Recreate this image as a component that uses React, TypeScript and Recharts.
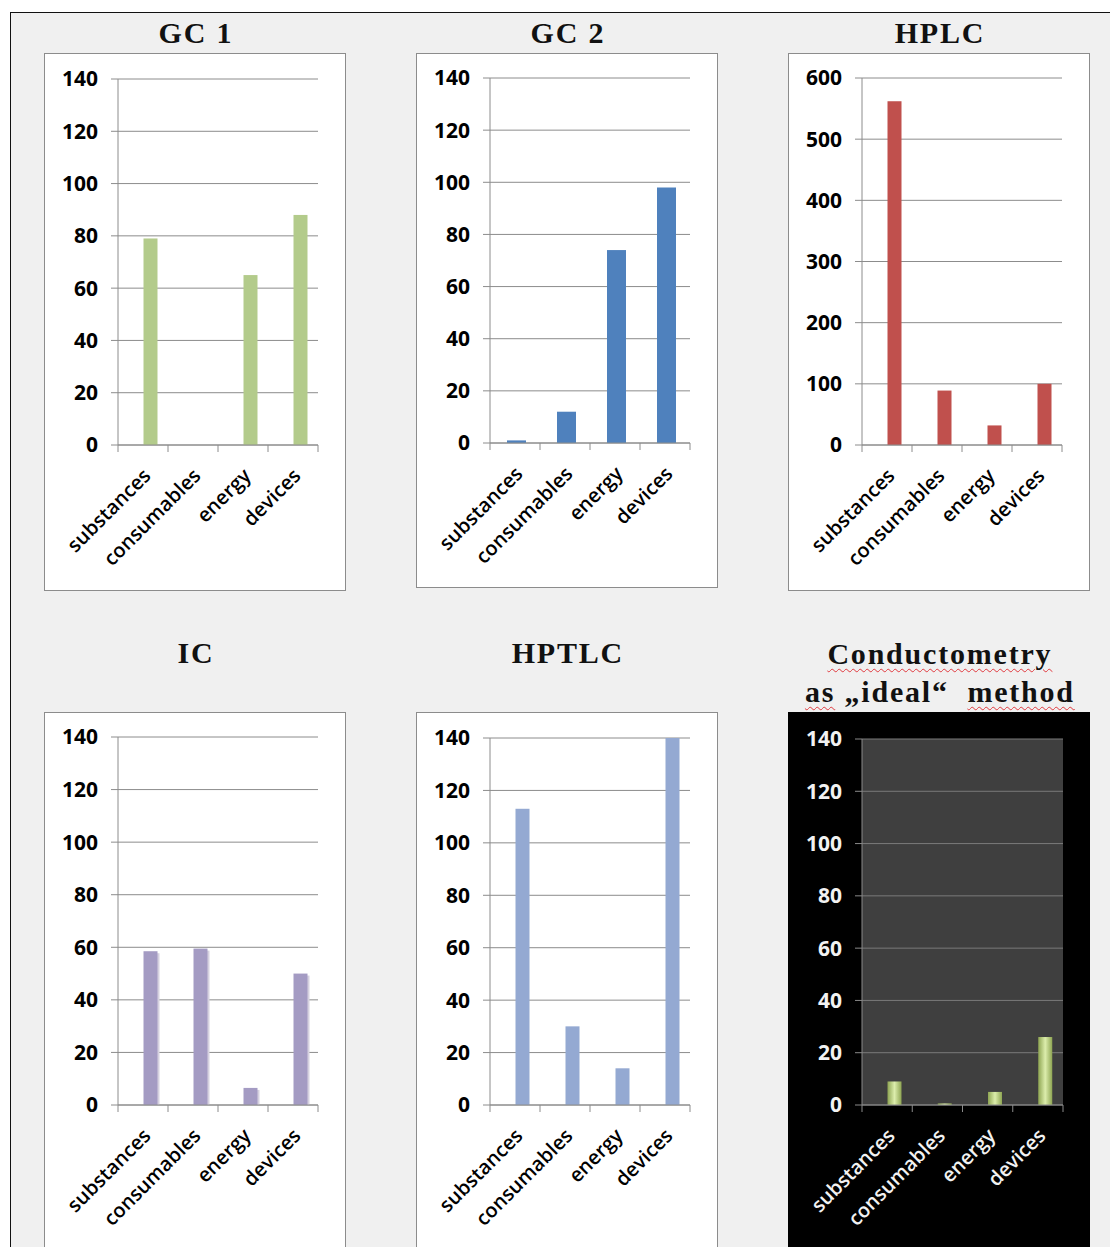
import React from 'react';
import { BarChart, Bar, XAxis, YAxis, CartesianGrid } from 'recharts';

// Cost categories shared by every method
const categories = ['substances', 'consumables', 'energy', 'devices'];

// Values per method, in category order
const gc1Values = [79, 0, 65, 88];
const gc2Values = [1, 12, 74, 98];
const hplcValues = [562, 89, 32, 100];
const icValues = [58.5, 59.5, 6.5, 50];
const hptlcValues = [113, 30, 14, 140];
const conductometryValues = [9, 0.6, 5, 26];

// Value-axis ticks
const ticksTo140 = [0, 20, 40, 60, 80, 100, 120, 140];
const ticksTo600 = [0, 100, 200, 300, 400, 500, 600];

const TICK_FONT = '"Open Sans", Lato, "DejaVu Sans", sans-serif';
const TITLE_FONT = '"Liberation Serif", "Times New Roman", serif';
const Y_AXIS_W = 60;
const X_AXIS_H = 110;

type Rect = { left: number; top: number; width: number; height: number };

type PanelProps = {
  box: Rect;
  plot: Rect;
  values: number[];
  ticks: number[];
  color: string;
  barWidth: number;
  barShift: number;
  dark?: boolean;
  shadow?: boolean;
  gradient?: boolean;
};

function makeRows(values: number[]) {
  return categories.map((category, i) => ({ category, value: values[i] }));
}

function CategoryTick(props: any) {
  const { x, y, payload, index, half, textColor, lineColor } = props;
  const idx = typeof index === 'number' ? index : payload?.index ?? 0;
  const ax = x + 9;
  const ay = y + 32;
  return (
    <g>
      <line x1={x - half} x2={x - half} y1={y} y2={y + 7} stroke={lineColor} strokeWidth={1} />
      {idx === categories.length - 1 && (
        <line x1={x + half} x2={x + half} y1={y} y2={y + 7} stroke={lineColor} strokeWidth={1} />
      )}
      <text
        x={ax}
        y={ay}
        transform={`rotate(-45, ${ax}, ${ay})`}
        textAnchor="end"
        fill={textColor}
        fontFamily={TICK_FONT}
        fontSize={20}
        fontWeight={600}
      >
        {payload.value}
      </text>
    </g>
  );
}

function BarShape(props: any) {
  const { x, y, width, height, fill, shift, shadow, gradient } = props;
  if (!height || height <= 0) return <g />;
  return (
    <g>
      {shadow && (
        <rect x={x + shift + 2} y={y + 2} width={width} height={height - 2} fill="#d6d1e0" />
      )}
      <rect
        x={x + shift}
        y={y}
        width={width}
        height={height}
        fill={gradient ? 'url(#condBar)' : fill}
      />
    </g>
  );
}

function Panel({ box, plot, values, ticks, color, barWidth, barShift, dark, shadow, gradient }: PanelProps) {
  const axisColor = dark ? '#8a8a8a' : '#8c8c8c';
  const gridColor = dark ? '#7a7a7a' : '#8c8c8c';
  const labelColor = dark ? '#f2f2f2' : '#000';
  const half = plot.width / categories.length / 2;
  const margin = {
    top: plot.top,
    left: plot.left - Y_AXIS_W,
    right: box.width - plot.left - plot.width,
    bottom: box.height - plot.top - plot.height - X_AXIS_H,
  };
  return (
    <div
      style={{
        position: 'absolute',
        left: box.left,
        top: box.top,
        width: box.width,
        height: box.height,
        background: dark ? '#000' : '#fff',
        outline: dark ? 'none' : '1px solid #8c8c8c',
        outlineOffset: -1,
      }}
    >
      <BarChart width={box.width} height={box.height} data={makeRows(values)} margin={margin}>
        <defs>
          <linearGradient id="condBar" x1="0" y1="0" x2="1" y2="0">
            <stop offset="0%" stopColor="#8ea552" />
            <stop offset="50%" stopColor="#dcedac" />
            <stop offset="100%" stopColor="#8ea552" />
          </linearGradient>
        </defs>
        <CartesianGrid
          vertical={false}
          stroke={gridColor}
          strokeWidth={1}
          fill={dark ? '#3f3f3f' : 'none'}
        />
        <XAxis
          dataKey="category"
          height={X_AXIS_H}
          interval={0}
          tickSize={0}
          tickMargin={0}
          tickLine={false}
          axisLine={{ stroke: axisColor, strokeWidth: 1 }}
          tick={(p: any) => (
            <CategoryTick {...p} half={half} textColor={labelColor} lineColor={axisColor} />
          )}
        />
        <YAxis
          width={Y_AXIS_W}
          domain={[0, ticks[ticks.length - 1]]}
          ticks={ticks}
          interval={0}
          tickSize={7}
          tickMargin={13}
          tickLine={{ stroke: axisColor, strokeWidth: 1 }}
          axisLine={{ stroke: axisColor, strokeWidth: 1 }}
          tick={{ fill: labelColor, fontSize: 21, fontWeight: 700, fontFamily: TICK_FONT }}
        />
        <Bar
          dataKey="value"
          fill={color}
          barSize={barWidth}
          isAnimationActive={false}
          shape={(p: any) => (
            <BarShape {...p} shift={barShift} shadow={shadow} gradient={gradient} />
          )}
        />
      </BarChart>
    </div>
  );
}

const underline: React.CSSProperties = {
  textDecorationLine: 'underline',
  textDecorationStyle: 'wavy',
  textDecorationColor: '#e0393e',
  textDecorationThickness: '1px',
  textUnderlineOffset: '4px',
};

function Title({ left, width, top, children, lineHeight = 32 }: any) {
  return (
    <div
      style={{
        position: 'absolute',
        left,
        top,
        width,
        textAlign: 'center',
        fontFamily: TITLE_FONT,
        fontWeight: 700,
        fontSize: 30,
        letterSpacing: '1.8px',
        paddingLeft: 1.8,
        boxSizing: 'border-box',
        lineHeight: `${lineHeight}px`,
        color: '#111',
        whiteSpace: 'pre',
      }}
    >
      {children}
    </div>
  );
}

export default function App() {
  return (
    <div
      style={{
        position: 'absolute',
        left: 0,
        top: 0,
        width: 1110,
        height: 1247,
        background: '#fff',
        overflow: 'hidden',
      }}
    >
      <div
        style={{
          position: 'absolute',
          left: 10,
          top: 12,
          width: 1120,
          height: 1260,
          background: '#f0f0f0',
          borderLeft: '1.5px solid #111',
          borderTop: '1.5px solid #111',
        }}
      />

      <Title left={44} width={302} top={17}>GC 1</Title>
      <Title left={416} width={302} top={17}>GC 2</Title>
      <Title left={788} width={302} top={17}>HPLC</Title>
      <Title left={44} width={302} top={637}>IC</Title>
      <Title left={416} width={302} top={637}>HPTLC</Title>
      <Title left={788} width={302} top={635} lineHeight={38}>
        <span style={underline}>Conductometry</span>
        {'\n'}
        <span style={underline}>as</span>
        {' „ideal“\u00a0 '}
        <span style={underline}>method</span>
      </Title>

      <Panel
        box={{ left: 44, top: 53, width: 302, height: 538 }}
        plot={{ left: 74, top: 26, width: 200, height: 366 }}
        values={gc1Values}
        ticks={ticksTo140}
        color="#b3cb8b"
        barWidth={14}
        barShift={7.5}
      />
      <Panel
        box={{ left: 416, top: 53, width: 302, height: 535 }}
        plot={{ left: 74, top: 25, width: 200, height: 365 }}
        values={gc2Values}
        ticks={ticksTo140}
        color="#4f81bd"
        barWidth={19}
        barShift={1}
      />
      <Panel
        box={{ left: 788, top: 53, width: 302, height: 538 }}
        plot={{ left: 74, top: 25, width: 200, height: 367 }}
        values={hplcValues}
        ticks={ticksTo600}
        color="#c0504d"
        barWidth={14}
        barShift={7.5}
      />
      <Panel
        box={{ left: 44, top: 712, width: 302, height: 560 }}
        plot={{ left: 74, top: 25, width: 200, height: 368 }}
        values={icValues}
        ticks={ticksTo140}
        color="#a49bc3"
        barWidth={14}
        barShift={7.5}
        shadow
      />
      <Panel
        box={{ left: 416, top: 712, width: 302, height: 560 }}
        plot={{ left: 74, top: 26, width: 200, height: 367 }}
        values={hptlcValues}
        ticks={ticksTo140}
        color="#94a9d2"
        barWidth={14}
        barShift={7.5}
      />
      <Panel
        box={{ left: 788, top: 712, width: 302, height: 560 }}
        plot={{ left: 74, top: 27, width: 201, height: 366 }}
        values={conductometryValues}
        ticks={ticksTo140}
        color="#b9d27f"
        barWidth={14}
        barShift={7.5}
        dark
        gradient
      />
    </div>
  );
}
